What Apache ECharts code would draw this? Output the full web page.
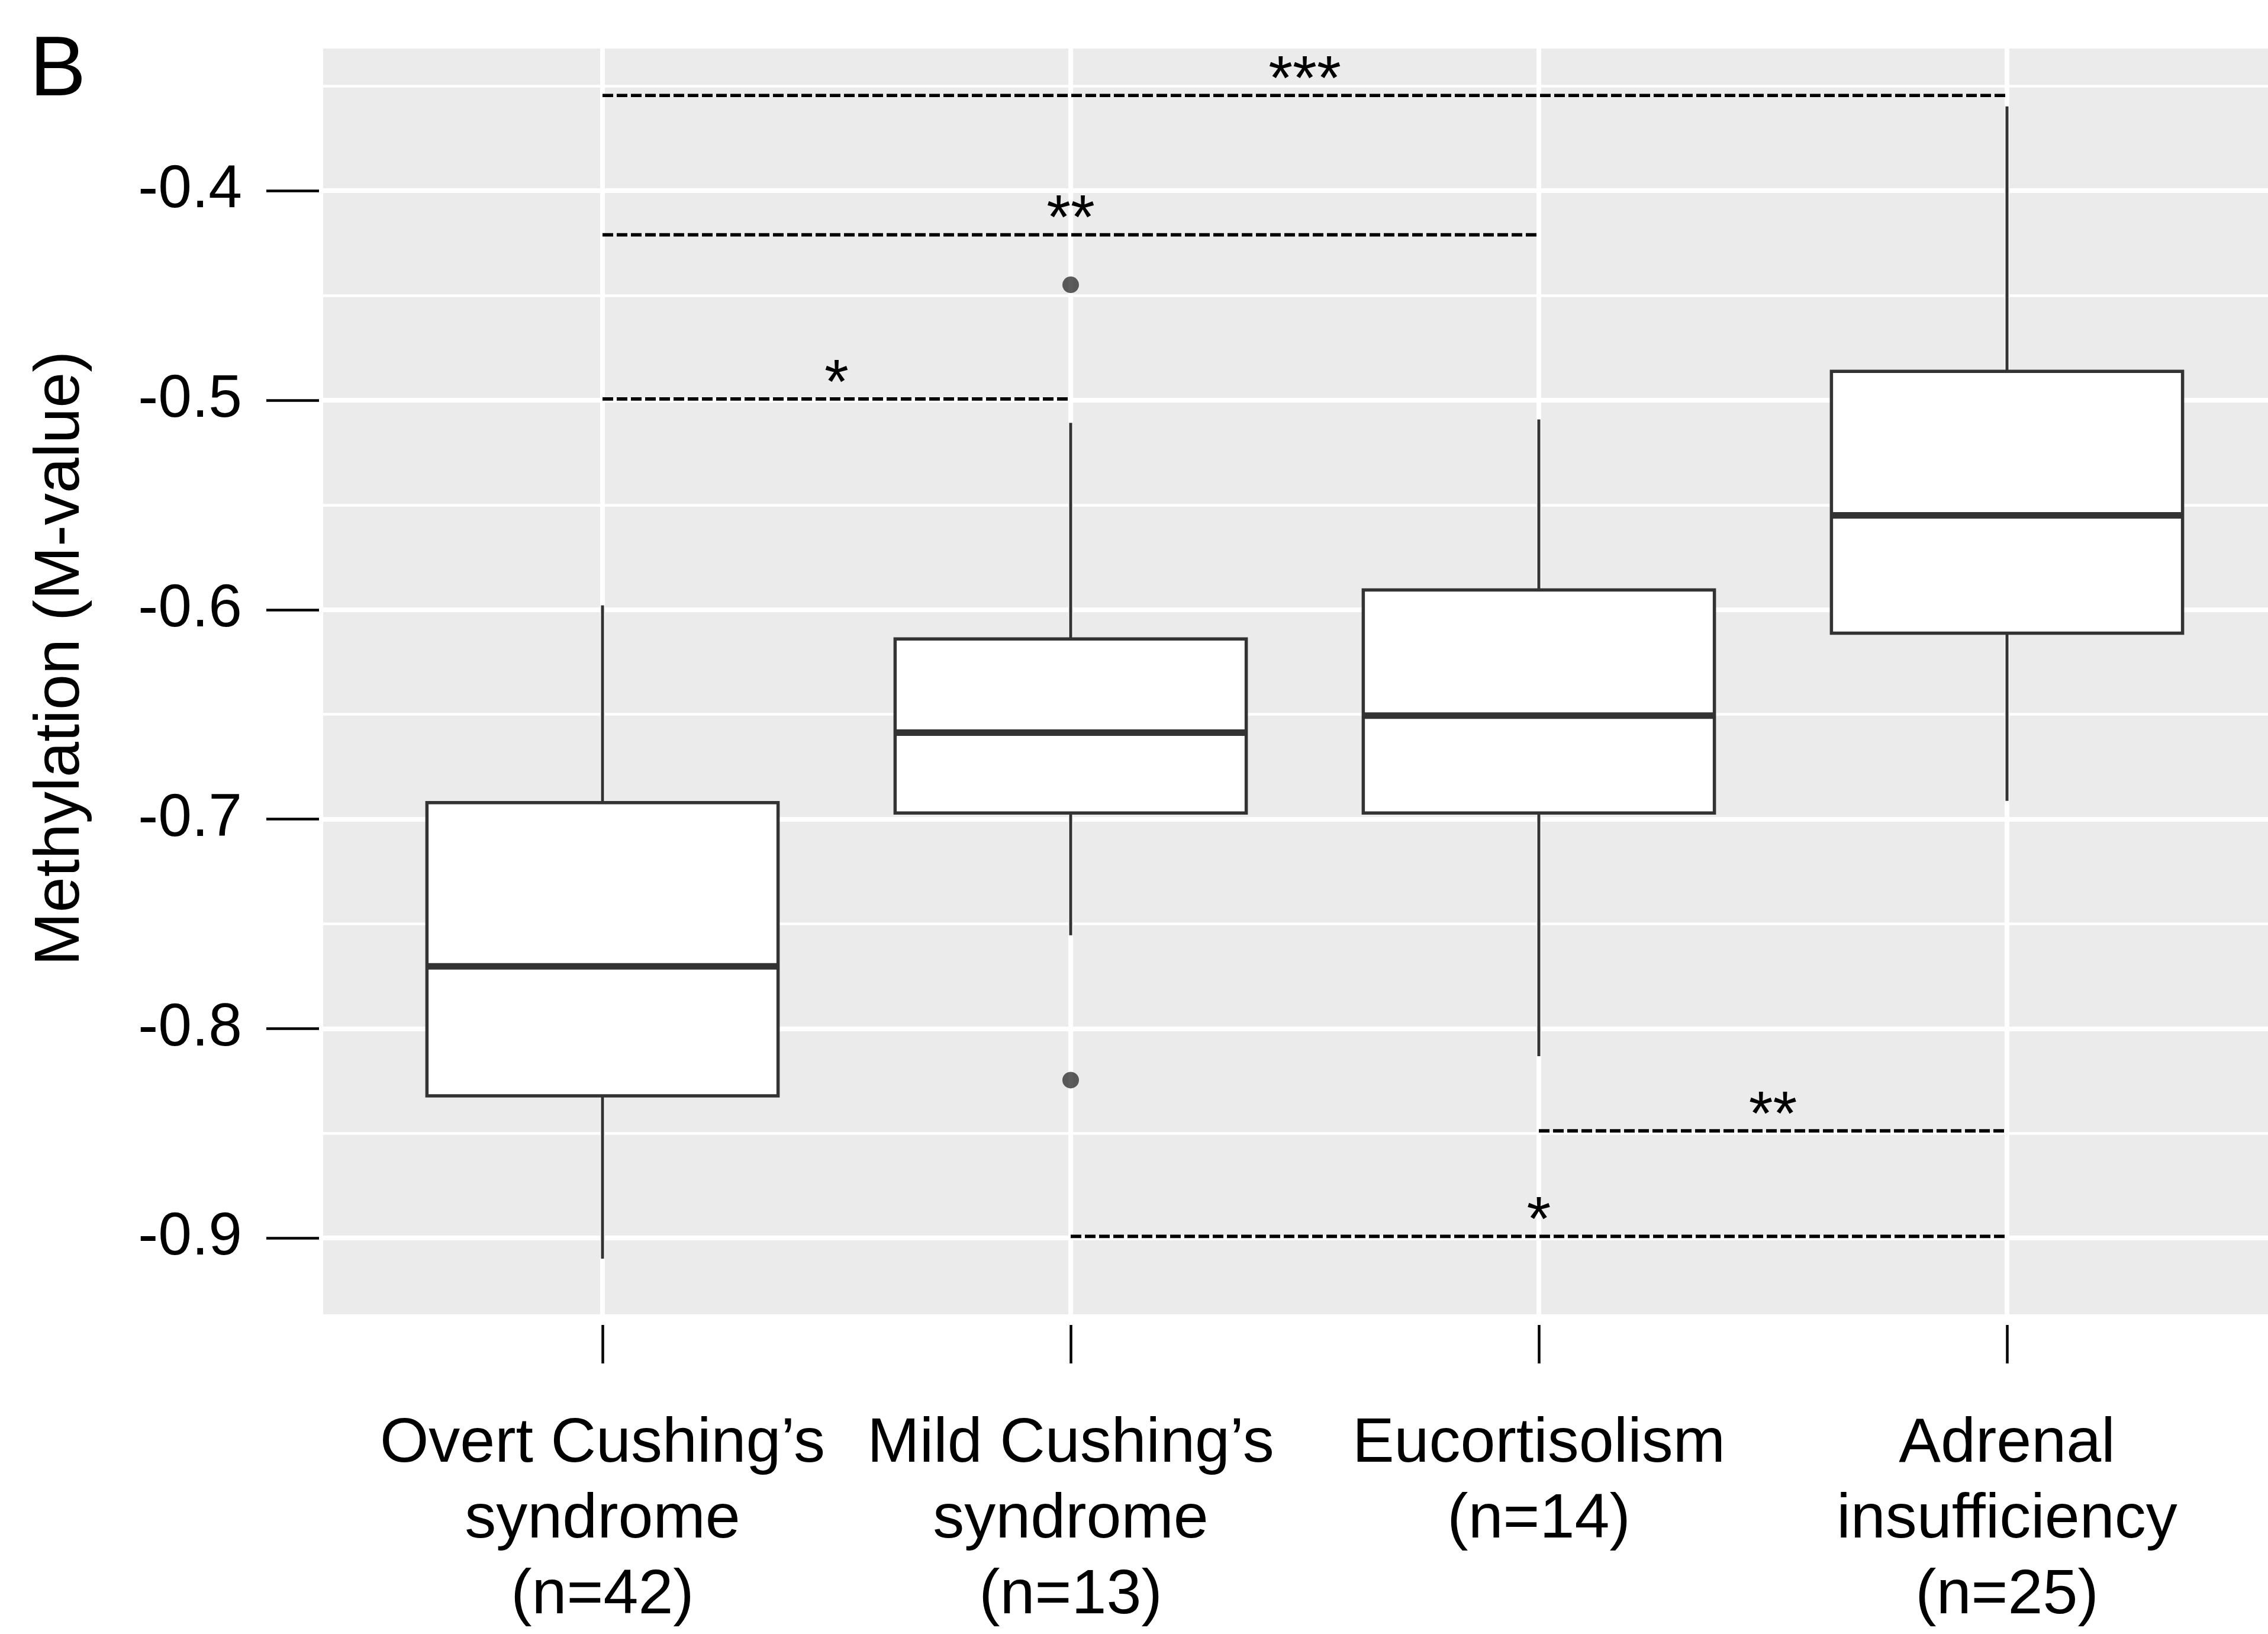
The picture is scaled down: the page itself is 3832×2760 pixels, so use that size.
<!DOCTYPE html>
<html><head><meta charset="utf-8">
<script src="https://cdn.jsdelivr.net/npm/echarts@6/dist/echarts.min.js"></script>
<style>html,body{margin:0;padding:0;background:#fff}#c{width:3832px;height:2760px}</style>
</head><body><div id="c"></div>
<script>
// ---- data ----
const categories = ["Overt Cushing\u2019s\nsyndrome\n(n=42)", "Mild Cushing\u2019s\nsyndrome\n(n=13)", "Eucortisolism\n(n=14)", "Adrenal\ninsufficiency\n(n=25)"];
const whiskerLow  = [-0.9098, -0.7554, -0.8132, -0.6913];
const q1          = [-0.8321, -0.6971, -0.6971, -0.6112];
const median      = [-0.7703, -0.6587, -0.6506, -0.5550];
const q3          = [-0.6921, -0.6140, -0.5906, -0.4862];
const whiskerHigh = [-0.5979, -0.5108, -0.5092, -0.3597];
const outlierGroup = [2, 2];
const outlierValue = [-0.4449, -0.8246];
const sigFrom  = [1, 1, 1, 3, 2];
const sigTo    = [4, 3, 2, 4, 4];
const sigY     = [-0.3545, -0.4210, -0.4994, -0.8488, -0.8992];
const sigLabel = ["***", "**", "*", "**", "*"];
const yTicks = [-0.9, -0.8, -0.7, -0.6, -0.5, -0.4];
const yMinorTicks = [-0.85, -0.75, -0.65, -0.55, -0.45, -0.35];
const xPositions = [1, 2, 3, 4];

// ---- chart ----
const FONT = '"Liberation Sans", Arial, Helvetica, sans-serif';
const chart = echarts.init(document.getElementById('c'), null, {renderer: 'canvas'});
const boxData = categories.map((c, i) => [xPositions[i], whiskerLow[i], q1[i], median[i], q3[i], whiskerHigh[i]]);
const sigData = sigFrom.map((f, i) => [f, sigTo[i], sigY[i], i]);
const outData = outlierGroup.map((g, i) => [g, outlierValue[i]]);
const BOX_W = 0.75;
const LINE_C = '#333333';

const option = {
  animation: false,
  backgroundColor: '#ffffff',
  textStyle: {fontFamily: FONT},
  grid: {left: 546, right: 0, top: 82, bottom: 539, show: true, backgroundColor: '#EBEBEB', borderWidth: 0, containLabel: false},
  xAxis: {
    type: 'value', min: 0.4033, max: 4.5575, offset: 18,
    axisLine: {show: false, onZero: false},
    axisTick: {show: true, length: 65, customValues: xPositions, lineStyle: {color: '#000', width: 4.5}},
    axisLabel: {customValues: xPositions, formatter: v => categories[Math.round(v) - 1] || '', margin: 138, fontSize: 106, lineHeight: 128, color: '#000', fontFamily: FONT, align: 'center'},
    splitLine: {show: true, lineStyle: {color: '#ffffff', width: 8}}
  },
  yAxis: [{
    type: 'value', min: -0.9364, max: -0.3321, offset: 7,
    axisLine: {show: false, onZero: false},
    axisTick: {show: true, length: 89, customValues: yTicks, lineStyle: {color: '#000', width: 4.5}},
    axisLabel: {customValues: yTicks, margin: 130, fontSize: 102, color: '#000', fontFamily: FONT, formatter: v => v.toFixed(1)},
    splitLine: {show: true, lineStyle: {color: '#ffffff', width: 8}}
  }, {
    type: 'value', min: -0.9364, max: -0.3321,
    axisLine: {show: false, onZero: false},
    axisTick: {show: false, customValues: yMinorTicks},
    axisLabel: {show: false, customValues: yMinorTicks},
    splitLine: {show: true, lineStyle: {color: '#ffffff', width: 4.5}}
  }],
  graphic: [
    {type: 'text', left: 50, top: 50, style: {text: 'B', font: '143px ' + FONT, fill: '#000'}},
    {type: 'text', x: 103, y: 1112, rotation: Math.PI / 2, style: {text: 'Methylation (M-value)', font: '108px ' + FONT, fill: '#000', align: 'center', verticalAlign: 'middle'}}
  ],
  series: [
    {
      type: 'custom', name: 'box', data: boxData, z: 2,
      encode: {x: 0, y: [1, 2, 3, 4, 5]},
      renderItem: function (params, api) {
        const x = api.value(0);
        const lo = api.coord([x, api.value(1)]);
        const b1 = api.coord([x, api.value(2)]);
        const m = api.coord([x, api.value(3)]);
        const b3 = api.coord([x, api.value(4)]);
        const hi = api.coord([x, api.value(5)]);
        const hw = api.size([BOX_W, 0])[0] / 2;
        const st = {stroke: LINE_C, lineWidth: 5};
        return {type: 'group', children: [
          {type: 'line', shape: {x1: lo[0], y1: lo[1], x2: lo[0], y2: b1[1]}, style: st},
          {type: 'line', shape: {x1: hi[0], y1: hi[1], x2: hi[0], y2: b3[1]}, style: st},
          {type: 'rect', shape: {x: lo[0] - hw, y: b3[1], width: 2 * hw, height: b1[1] - b3[1]}, style: {fill: '#ffffff', stroke: LINE_C, lineWidth: 5.5}},
          {type: 'line', shape: {x1: lo[0] - hw, y1: m[1], x2: lo[0] + hw, y2: m[1]}, style: {stroke: LINE_C, lineWidth: 11}}
        ]};
      }
    },
    {
      type: 'scatter', name: 'outliers', data: outData, symbolSize: 28, z: 3,
      itemStyle: {color: LINE_C}
    },
    {
      type: 'custom', name: 'signif', data: sigData, z: 4,
      encode: {x: [0, 1], y: 2},
      renderItem: function (params, api) {
        const a = api.coord([api.value(0), api.value(2)]);
        const b = api.coord([api.value(1), api.value(2)]);
        const lab = sigLabel[api.value(3)];
        return {type: 'group', children: [
          {type: 'line', shape: {x1: a[0], y1: a[1], x2: b[0], y2: b[1]}, style: {stroke: '#000', lineWidth: 5.7, lineDash: [18, 6]}},
          {type: 'text', x: (a[0] + b[0]) / 2, y: a[1] - 22, style: {text: lab, font: '105px ' + FONT, fill: '#000', align: 'center', verticalAlign: 'middle'}}
        ]};
      }
    }
  ]
};
chart.setOption(option);
</script>
</body></html>
